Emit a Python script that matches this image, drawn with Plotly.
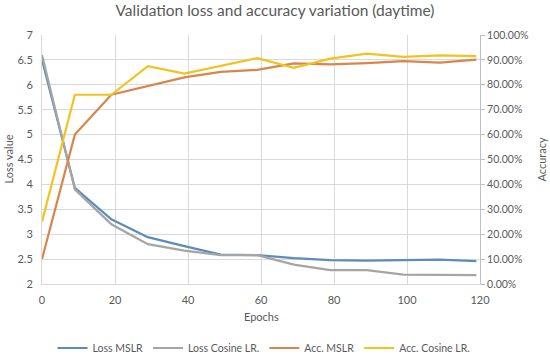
import plotly.graph_objects as go

epochs = [0, 9, 19, 29, 39, 49, 59, 69, 79, 89, 99, 109, 119]
loss_mslr = [6.50, 3.93, 3.30, 2.94, 2.76, 2.59, 2.58, 2.52, 2.48, 2.47, 2.48, 2.49, 2.46]
loss_cosine = [6.60, 3.90, 3.20, 2.80, 2.67, 2.58, 2.58, 2.39, 2.28, 2.28, 2.19, 2.19, 2.18]
acc_mslr = [0.10, 0.60, 0.76, 0.795, 0.83, 0.852, 0.86, 0.886, 0.882, 0.887, 0.895, 0.889, 0.901]
acc_cosine = [0.25, 0.76, 0.76, 0.875, 0.845, 0.875, 0.907, 0.868, 0.905, 0.925, 0.912, 0.918, 0.915]

font_family = "Lato, Open Sans, sans-serif"
txt = "#595959"
grid = "#D9D9D9"

fig = go.Figure()
fig.add_trace(go.Scatter(x=epochs, y=loss_mslr, name="Loss MSLR", mode="lines",
                         line=dict(color="#5B8DB8", width=2.2)))
fig.add_trace(go.Scatter(x=epochs, y=loss_cosine, name="Loss Cosine LR.", mode="lines",
                         line=dict(color="#A5A5A5", width=2.2)))
fig.add_trace(go.Scatter(x=epochs, y=acc_mslr, name="Acc. MSLR", mode="lines",
                         line=dict(color="#D9854B", width=2.2), yaxis="y2"))
fig.add_trace(go.Scatter(x=epochs, y=acc_cosine, name="Acc. Cosine LR.", mode="lines",
                         line=dict(color="#F2C31F", width=2.2), yaxis="y2"))

fig.update_layout(
    width=550, height=357,
    margin=dict(l=42, r=70, t=35, b=73, autoexpand=False),
    paper_bgcolor="white", plot_bgcolor="white",
    font=dict(family=font_family, color=txt, size=11),
    title=dict(text="Validation loss and accuracy variation (daytime)",
               x=0.5, xanchor="center", xref="container",
               y=1 - 11 / 357, yanchor="middle", yref="container",
               font=dict(size=15.5, color=txt, family=font_family)),
    xaxis=dict(range=[0, 120], dtick=20, showgrid=True, gridcolor=grid, zeroline=False,
               showline=True, linecolor=grid, mirror=False, ticks="",
               ticklabelstandoff=6, tickfont=dict(size=11)),
    yaxis=dict(range=[2, 7], dtick=0.5, showgrid=True, gridcolor=grid, zeroline=False,
               showline=True, linecolor=grid, ticks="", ticklabelstandoff=6,
               tickfont=dict(size=11)),
    yaxis2=dict(range=[0, 1], dtick=0.1, tickformat=".2%", overlaying="y", side="right",
                showgrid=False, zeroline=False, showline=True, linecolor="#BFBFBF",
                ticks="outside", ticklen=4, tickcolor="#BFBFBF",
                tickfont=dict(size=10.5)),
    legend=dict(orientation="h", x=0.48, xanchor="center", xref="container",
                y=1 - 348 / 357, yanchor="middle", yref="container",
                font=dict(size=10.5), itemwidth=30),
    showlegend=True,
    annotations=[
        dict(text="Epochs", xref="paper", yref="paper", x=0.5, y=-32 / 249,
             xanchor="center", yanchor="middle", showarrow=False, font=dict(size=11)),
        dict(text="Loss value", xref="paper", yref="paper", x=-34 / 438, y=0.5,
             xanchor="center", yanchor="middle", textangle=-90, showarrow=False,
             font=dict(size=11)),
        dict(text="Accuracy", xref="paper", yref="paper", x=(541 - 42) / 438, y=0.5,
             xanchor="center", yanchor="middle", textangle=-90, showarrow=False,
             font=dict(size=11)),
    ],
)

fig.write_html("out.html", config={"displayModeBar": False},
               post_script="document.body.style.margin='0';")
